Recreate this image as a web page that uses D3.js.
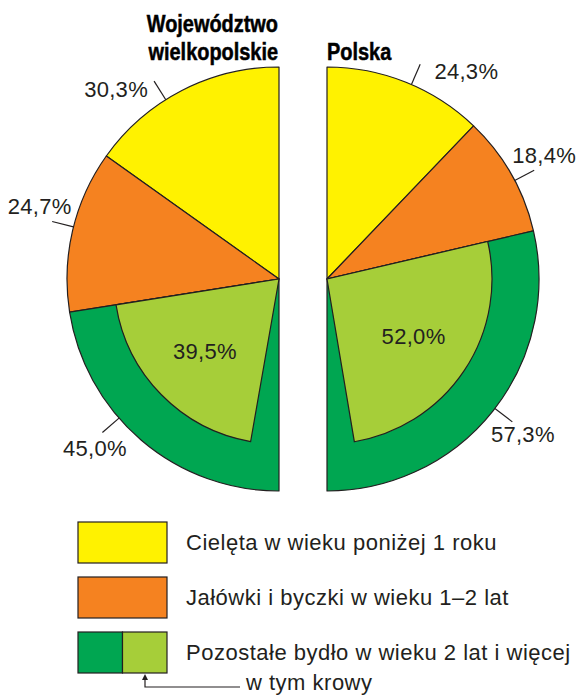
<!DOCTYPE html>
<html lang="pl">
<head>
<meta charset="UTF-8">
<title>Struktura pogłowia bydła</title>
<script src="https://cdn.jsdelivr.net/npm/d3@7"></script>
<style>
  body { margin: 0; background: #fff; }
  svg { display: block; }
  .lbl { font-family: "Liberation Sans", Arial, sans-serif; font-size: 22px; letter-spacing: 0.3px; fill: #231f20; }
  .leg { font-family: "Liberation Sans", Arial, sans-serif; font-size: 22px; letter-spacing: 0.5px; fill: #231f20; }
  .ttl { font-family: "Liberation Sans", Arial, sans-serif; font-weight: bold; font-size: 24px; fill: #000; stroke: #000; stroke-width: 0.5px; }
</style>
</head>
<body>
<div id="chart"></div>
<script>
  // dane
  const categories = ["Cielęta w wieku poniżej 1 roku", "Jałówki i byczki w wieku 1–2 lat", "Pozostałe bydło w wieku 2 lat i więcej"];
  const subCategory = "w tym krowy";
  const regionTitles = [["Województwo", "wielkopolskie"], ["Polska"]];
  const wielkopolskie = [30.3, 24.7, 45.0];
  const polska = [24.3, 18.4, 57.3];
  const cows = [39.5, 52.0]; // udział krów, kolejno: wielkopolskie, Polska

  const colors = ["#fff200", "#f58220", "#00a651"];
  const cowColor = "#a6ce39";
  const stroke = "#231f20";

  const W = 581, H = 696;
  const R = 212, Rin = 165, cy = 279;
  const halves = [
    { values: wielkopolskie, cow: cows[0], cx: 279, dir: -1, titles: regionTitles[0],
      leadShift: [5, -1, -8.5], textShift: [13.4, -3.6, -6.9] },
    { values: polska, cow: cows[1], cx: 327, dir: 1, titles: regionTitles[1],
      leadShift: [1.6, 2, -0.8], textShift: [12, 0, 0] }
  ];

  const fmt = v => d3.format(".1f")(v).replace(".", ",") + "%";
  const rad = d => d * Math.PI / 180;
  const polar = (a, r) => [Math.sin(a) * r, -Math.cos(a) * r];

  const svg = d3.select("#chart").append("svg")
    .attr("width", W).attr("height", H);

  const arc = d3.arc().innerRadius(0).outerRadius(R);
  const cowArc = d3.arc().innerRadius(0).outerRadius(Rin);

  halves.forEach(h => {
    const pie = d3.pie().sort(null).startAngle(0).endAngle(h.dir * Math.PI);
    const slices = pie(h.values);
    const g = svg.append("g").attr("transform", `translate(${h.cx},${cy})`);

    g.selectAll("path.slice")
      .data(slices)
      .join("path")
      .attr("class", "slice")
      .attr("d", arc)
      .attr("fill", (d, i) => colors[i])
      .attr("stroke", stroke)
      .attr("stroke-width", 1.2)
      .attr("stroke-linejoin", "round");

    // krowy - wewnętrzny wycinek w ramach zielonego
    const green = slices[2];
    const cowSlice = {
      startAngle: green.startAngle,
      endAngle: green.startAngle + h.dir * Math.PI * h.cow / 100
    };
    g.append("path")
      .attr("d", cowArc(cowSlice))
      .attr("fill", cowColor)
      .attr("stroke", stroke)
      .attr("stroke-width", 1.2);

    const cowMid = (cowSlice.startAngle + cowSlice.endAngle) / 2;
    const cp = polar(cowMid, 104);
    g.append("text")
      .attr("class", "lbl")
      .attr("x", cp[0]).attr("y", cp[1])
      .attr("text-anchor", "middle")
      .attr("dominant-baseline", "central")
      .text(fmt(h.cow));

    // etykiety z odnośnikami
    slices.forEach((d, i) => {
      const mid = (d.startAngle + d.endAngle) / 2;
      const la = mid + h.dir * rad(h.leadShift[i]);
      const p0 = polar(la, R), p1 = polar(la, R + 22);
      g.append("line")
        .attr("x1", p0[0]).attr("y1", p0[1])
        .attr("x2", p1[0]).attr("y2", p1[1])
        .attr("stroke", stroke).attr("stroke-width", 1.2);
      const ta = mid + h.dir * rad(h.textShift[i]);
      const tp = polar(ta, 250);
      g.append("text")
        .attr("class", "lbl")
        .attr("x", tp[0]).attr("y", tp[1])
        .attr("text-anchor", "middle")
        .attr("dominant-baseline", "central")
        .text(fmt(d.data));
    });

    // tytuł (pismo zwężone)
    const tx = h.cx + (h.dir < 0 ? -1 : 0);
    const t = svg.append("text")
      .attr("class", "ttl")
      .attr("text-anchor", h.dir < 0 ? "end" : "start")
      .attr("transform", `translate(${tx},${60 - (h.titles.length - 1) * 28}) scale(0.83,1)`);
    h.titles.forEach((s, k) => {
      t.append("tspan").attr("x", 0).attr("dy", k ? 28 : 0).text(s);
    });
  });

  // legenda
  const ly = d3.scalePoint().domain(categories).range([522, 632]);
  const lx = 78, bw = 89, bh = 41;
  const leg = svg.append("g");
  categories.forEach((c, i) => {
    const y = ly(c);
    if (i < 2) {
      leg.append("rect")
        .attr("x", lx).attr("y", y).attr("width", bw).attr("height", bh)
        .attr("fill", colors[i]).attr("stroke", stroke).attr("stroke-width", 1.2);
    } else {
      leg.append("rect")
        .attr("x", lx).attr("y", y).attr("width", bw / 2).attr("height", bh)
        .attr("fill", colors[i]).attr("stroke", stroke).attr("stroke-width", 1.2);
      leg.append("rect")
        .attr("x", lx + bw / 2).attr("y", y).attr("width", bw / 2).attr("height", bh)
        .attr("fill", cowColor).attr("stroke", stroke).attr("stroke-width", 1.2);
    }
    leg.append("text")
      .attr("class", "leg")
      .attr("x", 186).attr("y", y + bh / 2 + 7)
      .text(c);
  });

  // strzałka "w tym krowy"
  const gy = ly(categories[2]) + bh;
  const ax = 145;
  leg.append("path")
    .attr("d", `M${ax},${gy + 3} V${gy + 14} H${240}`)
    .attr("fill", "none").attr("stroke", stroke).attr("stroke-width", 1.2);
  leg.append("path")
    .attr("d", `M${ax},${gy + 1} l-3,6 h6 Z`)
    .attr("fill", stroke);
  leg.append("text")
    .attr("class", "leg")
    .attr("x", 246).attr("y", gy + 17)
    .text(subCategory);
</script>
</body>
</html>
